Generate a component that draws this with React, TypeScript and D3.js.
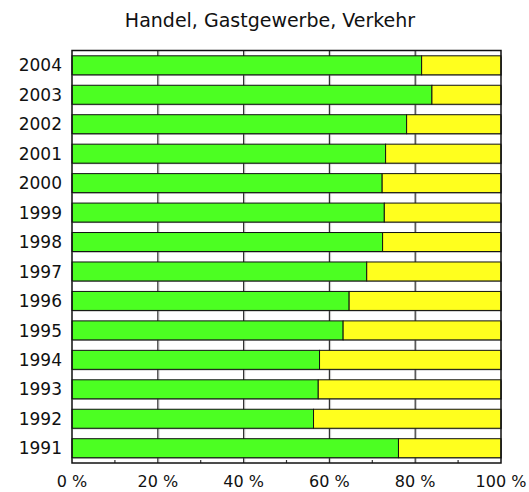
import React from "react";
import * as d3 from "d3";

const years = ["2004","2003","2002","2001","2000","1999","1998","1997","1996","1995","1994","1993","1992","1991"];
const greenShare = [81.5, 83.9, 78.0, 73.1, 72.3, 72.8, 72.4, 68.7, 64.6, 63.2, 57.7, 57.4, 56.3, 76.1];
const majorTicks = [0, 20, 40, 60, 80, 100];
const minorTicks = [10, 30, 50, 70, 90];
const title = "Handel, Gastgewerbe, Verkehr";

const W = 529, H = 492;
const left = 72, right = 501, top = 50.5, bottom = 463;
const font = "'DejaVu Sans', sans-serif";

export default function App() {
  const x = d3.scaleLinear().domain([0, 100]).range([left, right]);
  const y = d3.scaleBand<string>().domain(years).range([top, bottom]).paddingInner(0.355).paddingOuter(0.18);
  const bw = y.bandwidth();
  return (
    <svg width={W} height={H} style={{ position: "absolute", left: 0, top: 0, background: "#fff" }}>
      <text x={270} y={27} textAnchor="middle" fontFamily={font} fontSize={19} fill="#111">{title}</text>
      {majorTicks.slice(1, -1).map(t => (
        <g key={"g" + t}>
          <line x1={x(t) + 1.2} x2={x(t) + 1.2} y1={top} y2={bottom} stroke="#ccc" strokeWidth={1} />
          <line x1={x(t)} x2={x(t)} y1={top} y2={bottom} stroke="#333" strokeWidth={1.2} />
        </g>
      ))}
      {minorTicks.map(t => (
        <line key={"m" + t} x1={x(t)} x2={x(t)} y1={bottom} y2={bottom - 3} stroke="#333" strokeWidth={1.2} />
      ))}
      {years.map((yr, i) => {
        const y0 = y(yr)!;
        const g = greenShare[i];
        return (
          <g key={yr}>
            <rect x={x(0) + 1} y={y0 + 1} width={x(100) - x(0)} height={bw} fill="#555" opacity={0.6} />
            <rect x={x(0)} y={y0} width={x(g) - x(0)} height={bw} fill="#4cff22" stroke="#111" strokeWidth={1} />
            <rect x={x(g)} y={y0} width={x(100) - x(g)} height={bw} fill="#ffff1e" stroke="#111" strokeWidth={1} />
          </g>
        );
      })}
      <rect x={left} y={top} width={right - left} height={bottom - top} fill="none" stroke="#111" strokeWidth={1.5} />
      {years.map(yr => (
        <text key={"l" + yr} x={62} y={y(yr)! + bw / 2} dy="0.36em" textAnchor="end" fontFamily={font} fontSize={17} fill="#111">{yr}</text>
      ))}
      {majorTicks.map(t => (
        <text key={"t" + t} x={x(t)} y={487} textAnchor="middle" fontFamily={font} fontSize={16} fill="#111">{t} %</text>
      ))}
    </svg>
  );
}
